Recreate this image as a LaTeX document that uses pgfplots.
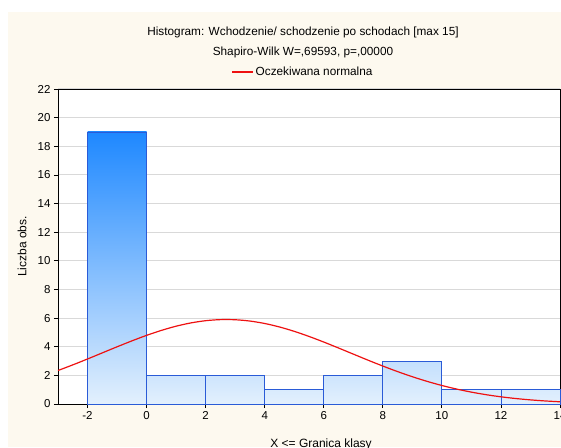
\documentclass[border=0pt]{standalone}
\usepackage{fontspec}
\setmainfont{Liberation Sans}
\usepackage{pgfplots}
\pgfplotsset{compat=1.18}

\definecolor{bgcream}{HTML}{FDF9EF}
\definecolor{bartop}{HTML}{1E88FF}
\definecolor{barbot}{HTML}{E3F0FD}
\definecolor{baredge}{HTML}{2A5BD7}
\definecolor{gridgray}{HTML}{D9D9D9}
\definecolor{curvered}{HTML}{EE1111}

\begin{document}
\begin{tikzpicture}
\fill[white] (-58pt,-43pt) rectangle (503pt,404pt);
\fill[bgcream] (-50pt,-43pt) rectangle (503pt,392pt);
\useasboundingbox (-58pt,-43pt) rectangle (503pt,404pt);
\begin{axis}[
    at={(0pt,0pt)}, anchor=south west,
    scale only axis,
    width=502pt, height=315pt,
    xmin=-3, xmax=14, ymin=0, ymax=22,
    xtick={-2,0,...,14},
    ytick={0,2,...,22},
    clip=false,
    axis background/.style={fill=white},
    axis line style={black, line width=0.9pt},
    tick style={black, line width=0.8pt},
    major tick length=4pt,
    tick align=outside,
    xtick pos=left, ytick pos=left,
    ymajorgrids=true,
    grid style={gridgray, line width=1pt},
    /pgf/number format/assume math mode=true,
    tick label style={font=\fontsize{11.5}{13}\selectfont},
    every axis y label/.style={at={(axis description cs:-0.0717,0.5)}, rotate=90, anchor=center},
    every axis x label/.style={at={(axis description cs:0.524,-0.128)}, anchor=center},
    label style={font=\fontsize{12}{14}\selectfont},
    ylabel={Liczba obs.},
    xlabel={X <= Granica klasy},
    legend style={at={(axis description cs:0.488,1.054)}, anchor=center,
        draw=none, fill=none, font=\fontsize{11.8}{13}\selectfont},
    legend image code/.code={\draw[#1] (0pt,0pt) -- (21pt,0pt);},
]
% histogram bars, grouped by height
\addplot[ybar, bar width=2, bar shift=0pt, draw=baredge, line width=0.8pt,
    bottom color=barbot, top color=bartop, forget plot]
    coordinates {(-1,19)};
\addplot[ybar, bar width=2, bar shift=0pt, draw=baredge, line width=0.8pt,
    bottom color=barbot, top color=bartop!16!barbot, forget plot]
    coordinates {(9,3)};
\addplot[ybar, bar width=2, bar shift=0pt, draw=baredge, line width=0.8pt,
    bottom color=barbot, top color=bartop!11!barbot, forget plot]
    coordinates {(1,2) (3,2) (7,2)};
\addplot[ybar, bar width=2, bar shift=0pt, draw=baredge, line width=0.8pt,
    bottom color=barbot, top color=bartop!5!barbot, forget plot]
    coordinates {(5,1) (11,1) (13,1)};
% expected normal curve
\addplot[curvered, line width=1.2pt, smooth] coordinates {
    (-3,2.339) (-2.5,2.732) (-2,3.145) (-1.5,3.570) (-1,3.995) (-0.5,4.407)
    (0,4.794) (0.5,5.140) (1,5.434) (1.5,5.663) (2,5.818) (2.5,5.893)
    (3,5.885) (3.5,5.793) (4,5.623) (4.5,5.380) (5,5.075) (5.5,4.719)
    (6,4.327) (6.5,3.911) (7,3.485) (7.5,3.061) (8,2.651) (8.5,2.263)
    (9,1.905) (9.5,1.581) (10,1.293) (10.5,1.043) (11,0.829) (11.5,0.650)
    (12,0.502) (12.5,0.383) (13,0.288) (13.5,0.213) (14,0.155)
};
\addlegendentry{Oczekiwana normalna}
\node[font=\fontsize{11.8}{13}\selectfont] at (axis description cs:0.488,1.181)
    {Histogram: Wchodzenie/ schodzenie po schodach [max 15]};
\node[font=\fontsize{11.8}{13}\selectfont] at (axis description cs:0.488,1.117)
    {Shapiro-Wilk W=,69593, p=,00000};
\end{axis}
\end{tikzpicture}
\end{document}
